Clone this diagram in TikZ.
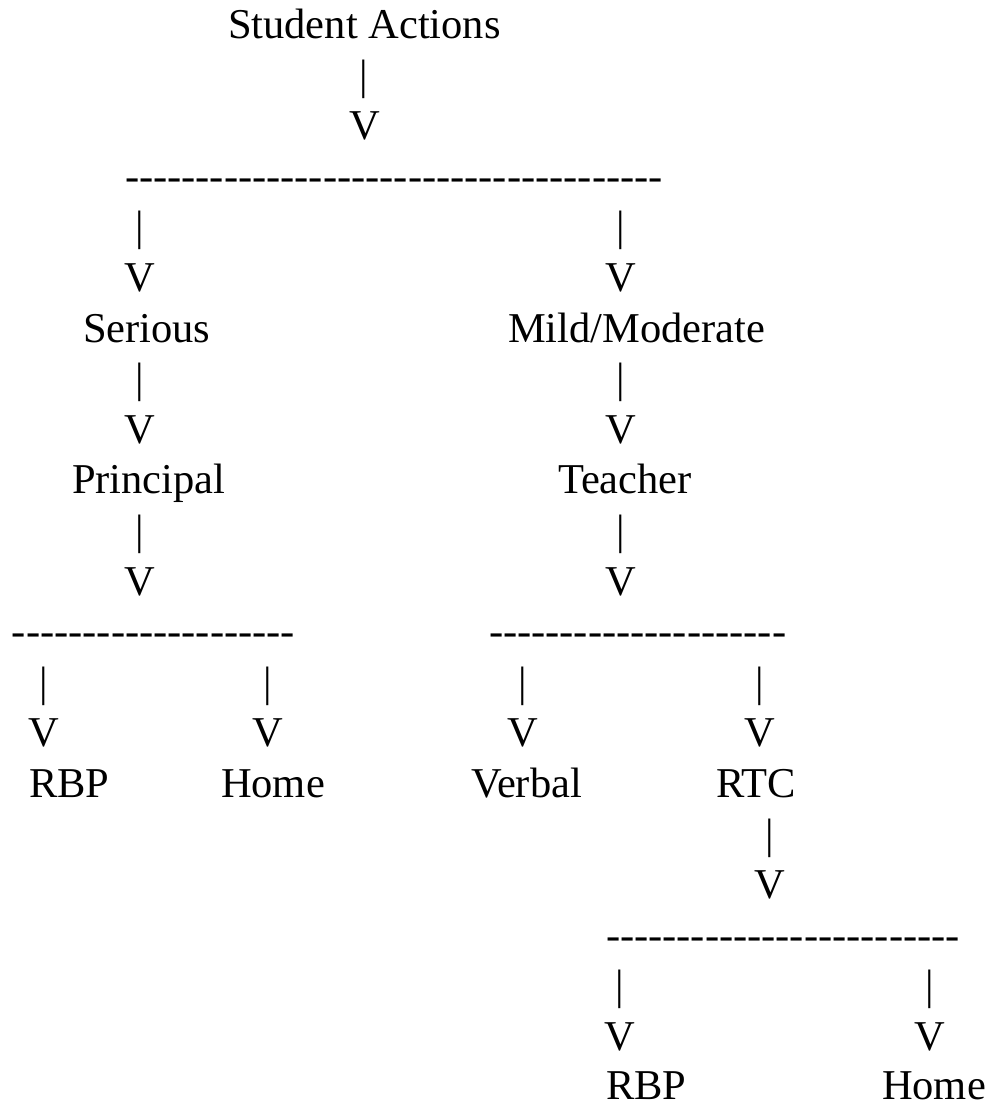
\documentclass[tikz,border=0pt]{standalone}
\usepackage{fontspec}
\setmainfont{Liberation Serif}
\newcommand\hyphs[1]{\foreach \i in {1,...,#1}{-\kern0pt}}
\begin{document}
\begin{tikzpicture}[x=1pt,y=1pt,
  txt/.style={font=\fontsize{42.5}{50}\selectfont, inner sep=0pt, outer sep=0pt, anchor=base west},
  sym/.style={font=\fontsize{42.5}{50}\selectfont, inner sep=0pt, outer sep=0pt, anchor=base}]
\useasboundingbox (0,0) rectangle (1000,-1107);
% row 1-4
\node[txt] (root) at (228,-38.5) {Student Actions};
\node[sym] (b0) at (364,-89.1) {|};
\node[sym] (v0) at (365,-139.7) {V};
\node[txt] (d0) at (125,-190.3) {\hyphs{38}};
% left/right branch
\node[sym] (bl1) at (140,-240.9) {|};
\node[sym] (br1) at (621,-240.9) {|};
\node[sym] (vl1) at (140,-291.5) {V};
\node[sym] (vr1) at (621,-291.5) {V};
\node[txt] (serious) at (83,-342.1) {Serious};
\node[txt] (mild) at (508,-342.1) {Mild/Moderate};
\node[sym] (bl2) at (140,-392.7) {|};
\node[sym] (br2) at (621,-392.7) {|};
\node[sym] (vl2) at (140,-443.3) {V};
\node[sym] (vr2) at (621,-443.3) {V};
\node[txt] (principal) at (72,-493.9) {Principal};
\node[txt] (teacher) at (558,-493.9) {Teacher};
\node[sym] (bl3) at (140,-544.5) {|};
\node[sym] (br3) at (621,-544.5) {|};
\node[sym] (vl3) at (140,-595.1) {V};
\node[sym] (vr3) at (621,-595.1) {V};
% second level
\node[txt] (dl) at (12,-645.7) {\hyphs{20}};
\node[txt] (dr) at (489,-645.7) {\hyphs{21}};
\node[sym] (b1) at (44,-696.3) {|};
\node[sym] (b2) at (268,-696.3) {|};
\node[sym] (b3) at (523,-696.3) {|};
\node[sym] (b4) at (760,-696.3) {|};
\node[sym] (v1) at (44,-746.9) {V};
\node[sym] (v2) at (268,-746.9) {V};
\node[sym] (v3) at (523,-746.9) {V};
\node[sym] (v4) at (760,-746.9) {V};
\node[txt] (rbp1) at (29,-797.5) {RBP};
\node[txt] (home1) at (221,-797.5) {Home};
\node[txt] (verbal) at (471,-797.5) {Verbal};
\node[txt] (rtc) at (716,-797.5) {RTC};
% third level
\node[sym] (b5) at (770,-848.1) {|};
\node[sym] (v5) at (770,-898.7) {V};
\node[txt] (d3) at (606,-949.3) {\hyphs{25}};
\node[sym] (b6) at (620,-999.9) {|};
\node[sym] (b7) at (930,-999.9) {|};
\node[sym] (v6) at (620,-1050.5) {V};
\node[sym] (v7) at (930,-1050.5) {V};
\node[txt] (rbp2) at (606,-1099.5) {RBP};
\node[txt] (home2) at (882,-1099.5) {Home};
\end{tikzpicture}
\end{document}
